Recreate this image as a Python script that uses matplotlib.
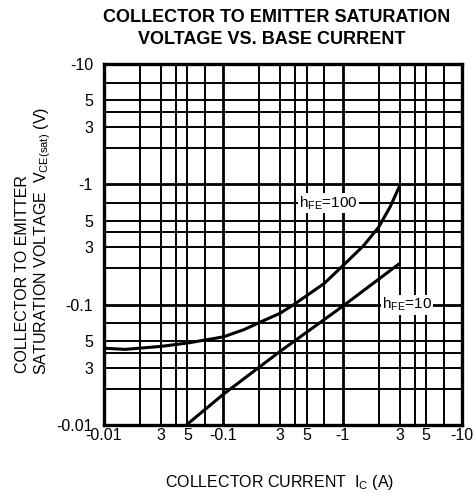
import matplotlib
matplotlib.use("Agg")
import matplotlib.pyplot as plt
import numpy as np

plt.rcParams['font.family'] = ['Liberation Sans', 'DejaVu Sans']
plt.rcParams['mathtext.fontset'] = 'custom'
plt.rcParams['mathtext.rm'] = 'Liberation Sans'
plt.rcParams['mathtext.it'] = 'Liberation Sans'

# ---- data ----
ic_h100 = [0.01, 0.015, 0.03, 0.05, 0.07, 0.1, 0.15, 0.2, 0.3, 0.4, 0.7, 1.0, 1.5, 2.0, 2.5, 3.0]
vce_h100 = [0.0435, 0.0425, 0.045, 0.048, 0.0508, 0.054, 0.0622, 0.071, 0.085, 0.102, 0.15, 0.21,
            0.31, 0.44, 0.65, 0.97]

ic_h10 = [0.049, 0.1, 0.3, 1.0, 3.0]
vce_h10 = [0.01, 0.018, 0.041, 0.097, 0.22]

x_major = [0.01, 0.1, 1, 10]
x_major_labels = ['-0.01', '-0.1', '-1', '-10']
y_major = [0.01, 0.1, 1, 10]
y_major_labels = ['-0.01', '-0.1', '-1', '-10']
subs = [2, 3, 4, 5, 7]
sub_labels = {3: '3', 5: '5'}

label_h100 = r'h$_{\mathregular{FE}}$=100'
label_h10 = r'h$_{\mathregular{FE}}$=10'

fig = plt.figure(figsize=(4.76, 4.96), dpi=100)
ax = fig.add_axes([104/476, 1-425/496, 358/476, 361/496])
ax.set_xscale('log')
ax.set_yscale('log')
ax.set_xlim(0.01, 10)
ax.set_ylim(0.01, 10)

minor_pos = []
minor_lab = []
for d in [0.01, 0.1, 1]:
    for s in subs:
        minor_pos.append(d * s)
        minor_lab.append(sub_labels.get(s, ''))

ax.set_xticks(x_major)
ax.set_xticklabels(x_major_labels)
ax.set_xticks(minor_pos, minor=True)
ax.set_xticklabels(minor_lab, minor=True)
ax.set_yticks(y_major)
ax.set_yticklabels(y_major_labels)
ax.set_yticks(minor_pos, minor=True)
ax.set_yticklabels(minor_lab, minor=True)

ax.tick_params(which='both', length=0, labelsize=11.5)
ax.tick_params(axis='x', which='both', pad=2)
ax.tick_params(axis='y', which='both', pad=8)

ax.grid(True, which='major', color='black', linewidth=2.0)
ax.grid(True, which='minor', color='black', linewidth=1.4)
ax.set_axisbelow(True)
for sp in ax.spines.values():
    sp.set_linewidth(2.4)

ax.plot(ic_h100, vce_h100, color='black', linewidth=2.2, solid_capstyle='butt')
ax.plot(ic_h10, vce_h10, color='black', linewidth=2.2, solid_capstyle='butt')

ax.text(0.43, 0.7, label_h100, ha='left', va='center', fontsize=11,
        bbox=dict(facecolor='white', edgecolor='none', pad=1.0), zorder=5)
ax.text(2.14, 0.1, label_h10, ha='left', va='center', fontsize=11,
        bbox=dict(facecolor='white', edgecolor='none', pad=1.0), zorder=5)

fig.text(277/476, 1-17/496, 'COLLECTOR TO EMITTER SATURATION', ha='center', va='center',
         fontsize=13, fontweight='bold')
fig.text(272/476, 1-39/496, 'VOLTAGE VS. BASE CURRENT', ha='center', va='center',
         fontsize=13, fontweight='bold')

fig.text(23/476, 1-274/496, 'COLLECTOR TO EMITTER', rotation=90, ha='center', va='center',
         fontsize=11.5)
fig.text(43/476, 1-241/496, r'SATURATION VOLTAGE  V$_{\mathregular{CE(sat)}}$ (V)', rotation=90,
         ha='center', va='center', fontsize=11.5)
fig.text(280/476, 1-483/496, r'COLLECTOR CURRENT  I$_{\mathregular{C}}$ (A)', ha='center',
         va='center', fontsize=11.5)

fig.savefig('out.png', dpi=100)
